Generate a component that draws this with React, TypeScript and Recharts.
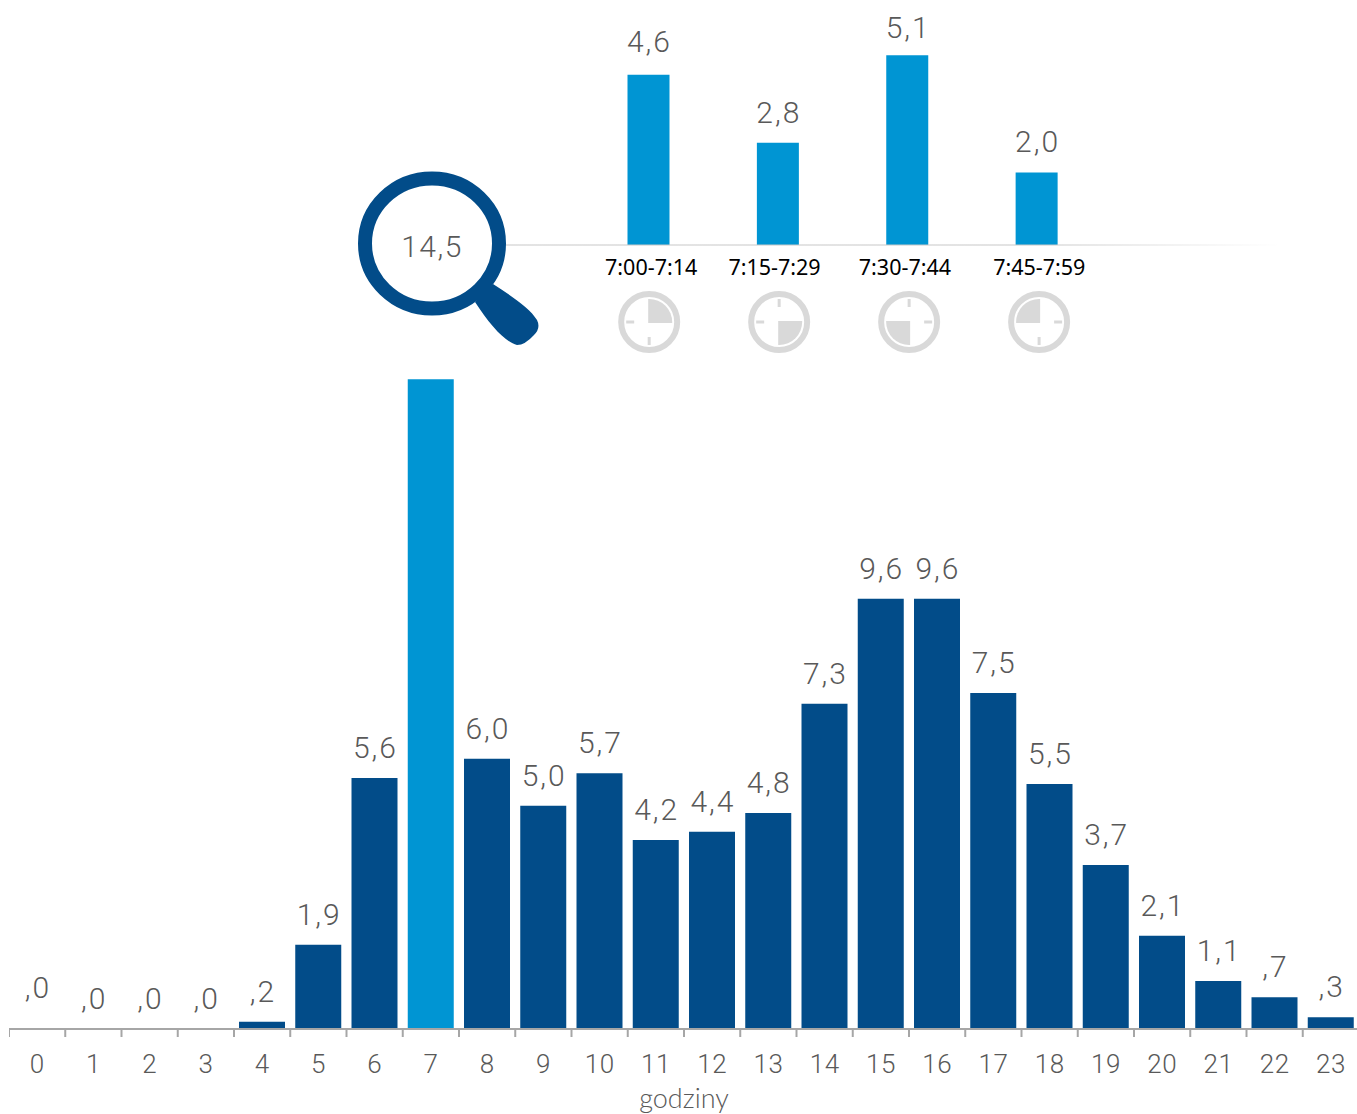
import { Bar, BarChart, Cell, LabelList, XAxis, YAxis } from "recharts"

const hours = ["0","1","2","3","4","5","6","7","8","9","10","11","12","13","14","15","16","17","18","19","20","21","22","23"]
// the empty hours are just above zero, they still print as ",0"
const shares = [0.01, 0.01, 0.01, 0.01, 0.16, 1.88, 5.6, 14.5, 6.03, 4.98, 5.71, 4.22, 4.4, 4.82, 7.26, 9.6, 9.6, 7.5, 5.47, 3.66, 2.08, 1.07, 0.71, 0.26]

const quarters = ["7:00-7:14", "7:15-7:29", "7:30-7:44", "7:45-7:59"]
const quarterShares = [4.6, 2.76, 5.13, 1.96]

const DARK = "#024C89"
const LIGHT = "#0095D3"
const TEXT = "#595959"
const GREY = "#D9D9D9"
const FONT = "Roboto, sans-serif"
const BAND = 1350 / 24

const hourRows = hours.map((hour, i) => ({ hour, share: shares[i] }))
const quarterRows = quarters.map((quarter, i) => ({ quarter, share: quarterShares[i] }))

// polish style, no leading zero: 0.2 -> ",2"
const fmt = (v: number) => v.toFixed(1).replace(".", ",").replace(/^0,/, ",")

function HourLabel({ x, y, width, value, index }: any) {
  // 14,5 sits inside the magnifier instead
  if (index === 7) return null
  return (
    <text
      x={x + width / 2 + 1}
      y={y - (index === 0 ? 31 : 20)}
      textAnchor="middle"
      fontFamily={FONT}
      fontWeight={300}
      fontSize={30}
      letterSpacing={2}
      fill={TEXT}
    >
      {fmt(value)}
    </text>
  )
}

const quarterLift = [23, 20, 17, 20]

function QuarterLabel({ x, y, width, value, index }: any) {
  return (
    <text
      x={x + width / 2 + 1}
      y={y - quarterLift[index]}
      textAnchor="middle"
      fontFamily={FONT}
      fontWeight={300}
      fontSize={30}
      letterSpacing={2}
      fill={TEXT}
    >
      {fmt(value)}
    </text>
  )
}

function HourTick({ x, y, payload }: any) {
  const left = x - BAND / 2
  return (
    <g>
      <line x1={left} x2={left} y1={y - 8} y2={y} stroke="#A6A6A6" strokeWidth={2} />
      <text x={x} y={y + 36} textAnchor="middle" fontFamily={FONT} fontWeight={300} fontSize={26} letterSpacing={0.5} fill={TEXT}>
        {payload.value}
      </text>
    </g>
  )
}

const tickNudge = [3, -3, -2, 3]

function QuarterTick({ x, y, payload, index }: any) {
  const notches = [
    [0, -23, 0, -15],
    [15, 0, 23, 0],
    [0, 15, 0, 23],
    [-23, 0, -15, 0],
  ]
  return (
    <g>
      <text x={x + tickNudge[index]} y={y + 22} textAnchor="middle" fontFamily="'Noto Sans', sans-serif" fontSize={21.5} fill="#000">
        {payload.value}
      </text>
      <g transform={`translate(${x + 1 + index * 0.6},${y + 69})`}>
        <circle r={28} fill="none" stroke={GREY} strokeWidth={6} />
        {notches
          .filter((_, n) => n !== index && n !== (index + 1) % 4)
          .map((n, i) => (
            <line key={i} x1={n[0]} y1={n[1]} x2={n[2]} y2={n[3]} stroke={GREY} strokeWidth={3} />
          ))}
        {/* quarter slice, turned to the quarter of the hour */}
        <path d="M-1,1 L-1,-23 L0,-23 A23,23 0 0 1 23,0 L23,1 Z" fill={GREY} transform={`rotate(${index * 90})`} />
      </g>
    </g>
  )
}

function Magnifier() {
  return (
    <svg width={1357} height={400} style={{ position: "absolute", left: 0, top: 0, pointerEvents: "none" }}>
      <ellipse cx={432} cy={243.5} rx={60} ry={58} fill="#fff" />
      <ellipse cx={432} cy={243.5} rx={67} ry={65} fill="none" stroke={DARK} strokeWidth={14} />
      <path
        d="M475,302 L493,284 C510,295 530,308 537,320 Q541,328 534,335 Q525,345 517,345 C505,342 490,325 475,302 Z"
        fill={DARK}
      />
      <text x={432} y={257} textAnchor="middle" fontFamily={FONT} fontWeight={300} fontSize={30} letterSpacing={1.5} fill={TEXT}>
        {fmt(shares[7])}
      </text>
    </svg>
  )
}

export default function App() {
  return (
    <div style={{ position: "absolute", left: 0, top: 0, width: 1357, height: 1114, overflow: "hidden", background: "#fff" }}>
      <div style={{ position: "absolute", left: 500, top: 0 }}>
        <BarChart width={780} height={360} data={quarterRows} margin={{ top: 0, right: 0, bottom: 0, left: 0 }}>
          <defs>
            <linearGradient id="axisFade" gradientUnits="userSpaceOnUse" x1={0} y1={0} x2={780} y2={0}>
              <stop offset="0%" stopColor="#C8C8C8" />
              <stop offset="70%" stopColor="#C8C8C8" />
              <stop offset="100%" stopColor="#FFFFFF" />
            </linearGradient>
          </defs>
          <XAxis
            dataKey="quarter"
            height={115}
            interval={0}
            padding={{ left: 83.5, right: 179 }}
            axisLine={{ stroke: "url(#axisFade)", strokeWidth: 1 }}
            tickLine={false}
            tick={<QuarterTick />}
          />
          <YAxis hide domain={[0, 6.62]} />
          <Bar dataKey="share" fill={LIGHT} barSize={42} isAnimationActive={false}>
            <LabelList dataKey="share" content={<QuarterLabel />} />
          </Bar>
        </BarChart>
      </div>

      <div style={{ position: "absolute", left: 9, top: 360 }}>
        <BarChart width={1350} height={754} data={hourRows} margin={{ top: 0, right: 0, bottom: 0, left: 0 }}>
          <XAxis
            dataKey="hour"
            height={85}
            interval={0}
            axisLine={{ stroke: "#A6A6A6", strokeWidth: 2 }}
            tickLine={false}
            tick={<HourTick />}
            label={{
              value: "godziny",
              position: "insideBottom",
              offset: 6,
              fontFamily: "Lato, sans-serif",
              fontWeight: 300,
              fontSize: 27,
              fill: TEXT,
            }}
          />
          <YAxis hide domain={[0, 14.93]} />
          <Bar dataKey="share" barSize={46} isAnimationActive={false}>
            {hourRows.map((row, i) => (
              <Cell key={row.hour} fill={i === 7 ? LIGHT : DARK} />
            ))}
            <LabelList dataKey="share" content={<HourLabel />} />
          </Bar>
        </BarChart>
      </div>

      <Magnifier />
    </div>
  )
}
